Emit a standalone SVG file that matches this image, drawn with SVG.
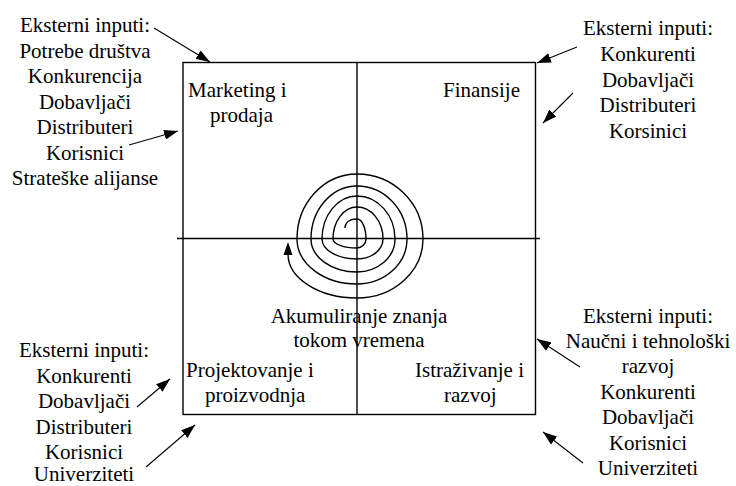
<svg xmlns="http://www.w3.org/2000/svg" width="736" height="486" viewBox="0 0 736 486">
  <style>
    text { font-family: "Liberation Serif", "Times New Roman", serif; font-size: 21px; fill: #000; }
    .c { text-anchor: middle; }
    .ln { fill: none; stroke: #000; stroke-width: 1.4; }
    .ar { fill: none; stroke: #000; stroke-width: 1.1; marker-end: url(#head); }
  </style>
  <defs>
    <marker id="head" markerUnits="userSpaceOnUse" markerWidth="14" markerHeight="10" viewBox="0 0 14 10" refX="14" refY="5" orient="auto">
      <path d="M0,0 L14,5 L0,10 z" fill="#000"/>
    </marker>
  </defs>

  <rect width="736" height="486" fill="#fff"/>

  <!-- four-quadrant frame -->
  <g id="frame">
    <rect class="ln" x="183" y="62.5" width="352.5" height="352"/>
    <line class="ln" x1="357" y1="62.5" x2="357" y2="414.5"/>
    <line class="ln" x1="177" y1="238.5" x2="540" y2="238.5"/>
  </g>

  <!-- knowledge accumulation spiral -->
  <g id="spiral">
    <path class="ln" stroke-width="1.3" d="M345,228 C345,222 350,219 357,219
      A9,20 0 0 1 366,239 A9,9 0 0 1 357,248 A24,9 0 0 1 333,239
      A24,32 0 0 1 357,207 A26,32 0 0 1 383,239 A26,20 0 0 1 357,259
      A35,20 0 0 1 322,239 A35,43 0 0 1 357,196 A38,43 0 0 1 395,239
      A38,33 0 0 1 357,272 A46,33 0 0 1 311,239 A46,53 0 0 1 357,186
      A50,53 0 0 1 407,239 A50,45 0 0 1 357,284 A60,45 0 0 1 297,239
      A60,65 0 0 1 357,174 A66,65 0 0 1 423,239 A66,59 0 0 1 357,298
      A69,44 0 0 1 288,254"/>
    <polygon points="288,242 292.5,255 283.5,255" fill="#000"/>
  </g>

  <!-- quadrant labels -->
  <g id="marketing">
    <text x="188" y="97">Marketing i</text>
    <text x="210" y="122">prodaja</text>
  </g>
  <g id="finansije">
    <text x="443" y="97">Finansije</text>
  </g>
  <g id="projektovanje">
    <text x="186" y="377">Projektovanje i</text>
    <text x="205" y="402">proizvodnja</text>
  </g>
  <g id="istrazivanje">
    <text x="415" y="377">Istraživanje i</text>
    <text x="444" y="402">razvoj</text>
  </g>
  <g id="akumulacija">
    <text class="c" x="359" y="323">Akumuliranje znanja</text>
    <text class="c" x="359" y="347">tokom vremena</text>
  </g>

  <!-- external inputs -->
  <g id="inputi-gore-levo">
    <text class="c" x="85" y="32">Eksterni inputi:</text>
    <text class="c" x="85" y="57.5">Potrebe društva</text>
    <text class="c" x="85" y="83">Konkurencija</text>
    <text class="c" x="85" y="108.5">Dobavljači</text>
    <text class="c" x="85" y="134">Distributeri</text>
    <text class="c" x="85" y="159.5">Korisnici</text>
    <text class="c" x="85" y="185">Strateške alijanse</text>
  </g>
  <g id="inputi-gore-desno">
    <text class="c" x="648" y="35">Eksterni inputi:</text>
    <text class="c" x="648" y="61">Konkurenti</text>
    <text class="c" x="648" y="86.5">Dobavljači</text>
    <text class="c" x="648" y="112">Distributeri</text>
    <text class="c" x="648" y="137.5">Korsinici</text>
  </g>
  <g id="inputi-dole-levo">
    <text class="c" x="84" y="357">Eksterni inputi:</text>
    <text class="c" x="84" y="382.5">Konkurenti</text>
    <text class="c" x="84" y="408">Dobavljači</text>
    <text class="c" x="84" y="433.5">Distributeri</text>
    <text class="c" x="84" y="459">Korisnici</text>
    <text class="c" x="84" y="481">Univerziteti</text>
  </g>
  <g id="inputi-dole-desno">
    <text class="c" x="648" y="323">Eksterni inputi:</text>
    <text class="c" x="648" y="348">Naučni i tehnološki</text>
    <text class="c" x="648" y="373">razvoj</text>
    <text class="c" x="648" y="398.5">Konkurenti</text>
    <text class="c" x="648" y="424">Dobavljači</text>
    <text class="c" x="648" y="449.5">Korisnici</text>
    <text class="c" x="648" y="475">Univerziteti</text>
  </g>

  <!-- arrows from external inputs toward the frame -->
  <g id="connectors">
    <line class="ar" x1="154" y1="28" x2="210" y2="62"/>
    <line class="ar" x1="129" y1="145" x2="178" y2="131"/>
    <line class="ar" x1="577" y1="47" x2="537" y2="63"/>
    <line class="ar" x1="573" y1="93" x2="543" y2="123"/>
    <line class="ar" x1="137" y1="407" x2="170" y2="379"/>
    <line class="ar" x1="146" y1="467" x2="195" y2="425"/>
    <line class="ar" x1="580" y1="367" x2="537" y2="339"/>
    <line class="ar" x1="583" y1="463" x2="543" y2="432"/>
  </g>
</svg>
